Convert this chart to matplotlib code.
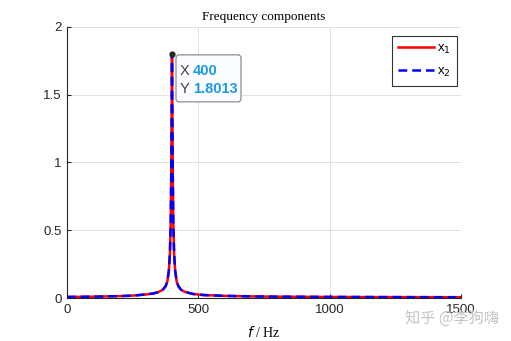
import matplotlib
matplotlib.use('Agg')
import matplotlib.pyplot as plt
from matplotlib.patches import FancyBboxPatch

# spectrum magnitude (both signals share the same spectrum)
freq = [0, 50, 100, 150, 200, 250, 300, 330, 350, 365, 375, 382, 388, 392, 395, 397, 399, 400,
        401, 403, 405, 408, 412, 418, 425, 435, 450, 480, 520, 600, 700, 800, 1000, 1200, 1500]
x1 = [0.008, 0.009, 0.010, 0.012, 0.014, 0.018, 0.026, 0.034, 0.045, 0.062, 0.085, 0.12, 0.2,
      0.33, 0.55, 0.9, 1.45, 1.8013,
      1.45, 0.9, 0.55, 0.33, 0.2, 0.12, 0.085, 0.06, 0.045, 0.03, 0.022, 0.016, 0.012, 0.010,
      0.008, 0.007, 0.006]
x2 = list(x1)

peak_f, peak_y = 400, 1.8013

xticks = [0, 500, 1000, 1500]
yticks = [0, 0.5, 1, 1.5, 2]
yticklabels = ['0', '0.5', '1', '1.5', '2']

plt.rcParams['font.family'] = ['Liberation Sans', 'DejaVu Sans']

fig = plt.figure(figsize=(5.11, 3.41), dpi=100)
ax = fig.add_axes([0.131, 0.126, 0.771, 0.795])

ax.plot(freq, x1, color='#ff0000', lw=1.8, label='x$_1$')
ax.plot(freq, x2, color='#0000ff', lw=1.8, ls=(0, (3.5, 2)), label='x$_2$')

ax.set_xlim(0, 1500)
ax.set_ylim(0, 2)
ax.set_xticks(xticks)
ax.set_xticklabels([str(t) for t in xticks])
ax.set_yticks(yticks)
ax.set_yticklabels(yticklabels)
ax.tick_params(direction='in', length=3, labelsize=9.5, colors='#262626', pad=4)
ax.grid(True, color='#dcdcdc', lw=0.6)
ax.set_axisbelow(True)
for s in ['top', 'right']:
    ax.spines[s].set_visible(False)
for s in ['left', 'bottom']:
    ax.spines[s].set_color('#262626')
    ax.spines[s].set_linewidth(0.8)

ax.set_title('Frequency components', fontsize=9.5, family='Liberation Serif', pad=5)
ax.set_xlabel('$f$ / Hz', fontsize=10, family='Liberation Serif', labelpad=7)

leg = ax.legend(loc='upper right', bbox_to_anchor=(0.99, 0.967), fontsize=9.5, frameon=True,
                fancybox=False, edgecolor='black', handlelength=2.7, borderaxespad=0,
                labelspacing=0.75, handletextpad=0.2, borderpad=0.5)
leg.get_frame().set_linewidth(0.8)

# data tip at the peak
ax.plot([peak_f], [peak_y], 'o', color='#262626', ms=3.5, zorder=5)
fig.canvas.draw()
px, py = ax.transData.transform((peak_f, peak_y))
box = FancyBboxPatch((px + 4, py - 48), 65, 47, boxstyle='round,pad=0,rounding_size=3',
                     transform=None, facecolor='#fbfcff', edgecolor='#7f7f7f', lw=0.8, zorder=6)
fig.patches.append(box)
tip_blue = '#1a9be0'
fs = 10.5
fig.text((px + 8) / fig.bbox.width, (py - 17) / fig.bbox.height, 'X', color='#404040',
         fontsize=fs, va='center', zorder=7)
fig.text((px + 21) / fig.bbox.width, (py - 17) / fig.bbox.height, f'{peak_f}', color=tip_blue,
         fontsize=fs, fontweight='bold', va='center', zorder=7)
fig.text((px + 8) / fig.bbox.width, (py - 35) / fig.bbox.height, 'Y', color='#404040',
         fontsize=fs, va='center', zorder=7)
fig.text((px + 21) / fig.bbox.width, (py - 35) / fig.bbox.height, f'{peak_y:.4f}', color=tip_blue,
         fontsize=fs, fontweight='bold', va='center', zorder=7)

fig.text(0.793, 0.067, '知乎 @李狗嗨', color='#c4c4c4', fontsize=11,
         family=['Noto Sans CJK SC', 'DejaVu Sans'], va='center')

fig.savefig('out.png', dpi=100)
